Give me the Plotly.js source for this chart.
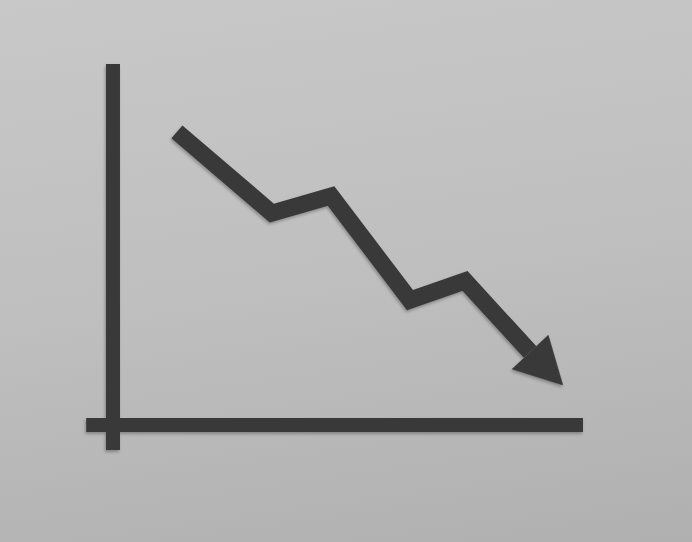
<!DOCTYPE html>
<html>
<head>
<meta charset="utf-8">
<script src="https://cdn.plot.ly/plotly-3.0.1.min.js"></script>
<style>
  html, body { margin: 0; padding: 0; width: 692px; height: 542px; overflow: hidden;
    background: linear-gradient(172deg, #c8c8c8 0%, #bfbfbf 50%, #b0b0b0 100%); }
  #chart { width: 692px; height: 542px; }
  .js-plotly-plot .scatterlayer { filter: drop-shadow(-1px 2px 1.5px rgba(0,0,0,0.28)); }
  .js-plotly-plot .scatterlayer path.js-line { stroke-linejoin: miter !important; stroke-linecap: butt !important; stroke-miterlimit: 10; }
</style>
</head>
<body>
<div id="chart"></div>
<script>
// Axis bars (data units)
const yAxisBarX = [0, 0];
const yAxisBarY = [-0.69, 10];
const xAxisBarX = [-0.57, 10];
const xAxisBarY = [0, 0];

// Declining trend line vertices
const trendX = [1.36, 3.38, 4.64, 6.32, 7.49];
const trendY = [8.12, 5.87, 6.34, 3.46, 3.99];

// Arrow head (base corner, tip, base corner)
const headX = [9.26, 9.57, 8.49];
const headY = [2.49, 1.11, 1.55];

const ink = '#393939';
const shaftEndX = (headX[0] + headX[2]) / 2;
const shaftEndY = (headY[0] + headY[2]) / 2;

const traces = [
  { x: yAxisBarX, y: yAxisBarY, mode: 'lines', line: { color: ink, width: 14 }, hoverinfo: 'skip' },
  { x: xAxisBarX, y: xAxisBarY, mode: 'lines', line: { color: ink, width: 14 }, hoverinfo: 'skip' },
  { x: trendX.concat([shaftEndX]), y: trendY.concat([shaftEndY]), mode: 'lines',
    line: { color: ink, width: 17 }, hoverinfo: 'skip' },
  { x: headX, y: headY, mode: 'lines', fill: 'toself', fillcolor: ink,
    line: { color: ink, width: 0.5 }, hoverinfo: 'skip' }
];

const layout = {
  width: 692, height: 542,
  margin: { l: 0, r: 0, t: 0, b: 0 },
  paper_bgcolor: 'rgba(0,0,0,0)',
  plot_bgcolor: 'rgba(0,0,0,0)',
  showlegend: false,
  xaxis: { range: [-2.404, 12.319], visible: false, fixedrange: true },
  yaxis: { range: [-3.241, 11.773], visible: false, fixedrange: true },
  hovermode: false
};

Plotly.newPlot('chart', traces, layout, { staticPlot: true, displayModeBar: false });
</script>
</body>
</html>
